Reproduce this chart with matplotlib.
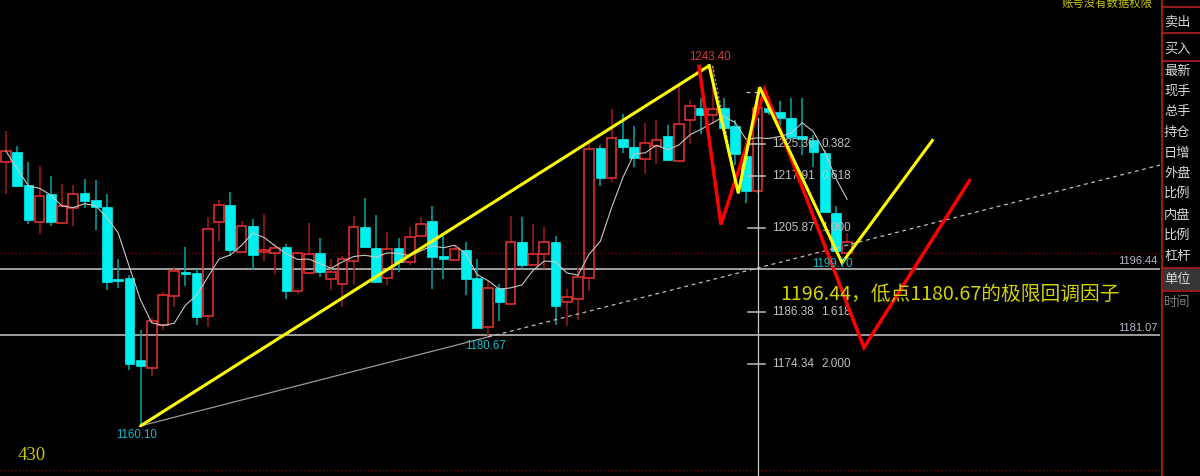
import matplotlib
matplotlib.use('Agg')
import matplotlib.pyplot as plt
from matplotlib.patches import Rectangle
from matplotlib.lines import Line2D
import numpy as np
import pandas as pd

plt.rcParams['font.family'] = ['Noto Sans CJK SC', 'DejaVu Sans']

# ---------------- data ----------------
opens = [1221.1, 1223.45, 1215.9, 1207.3, 1213.8, 1207.1, 1210.5, 1214.0, 1212.3, 1210.8,
         1193.96, 1194.2, 1175.3, 1173.6, 1183.35, 1190.2, 1195.65, 1195.4, 1185.5, 1207.3,
         1211.1, 1200.4, 1206.4, 1200.4, 1200.0, 1201.5, 1191.4, 1195.5, 1200.0, 1194.1,
         1192.8, 1198.2, 1206.0, 1201.2, 1194.35, 1201.2, 1198.0, 1204.0, 1207.4, 1199.35,
         1198.4, 1200.8, 1194.2, 1182.95, 1191.96, 1188.4, 1202.7, 1197.4, 1199.75, 1202.7,
         1188.8, 1189.35, 1194.2, 1224.3, 1217.45, 1226.5, 1224.5, 1221.8, 1224.9, 1227.2,
         1221.45, 1230.75, 1233.6, 1232.1, 1233.7, 1229.4, 1222.4, 1214.5, 1233.6, 1232.6,
         1231.3, 1227.2, 1226.3, 1223.2, 1209.4, 1200.0]
highs = [1228.4, 1224.9, 1221.1, 1220.1, 1218.0, 1216.1, 1215.8, 1217.2, 1217.0, 1213.8,
         1198.75, 1194.9, 1182.2, 1185.0, 1191.0, 1196.9, 1201.5, 1196.7, 1208.4, 1212.4,
         1214.2, 1207.4, 1208.0, 1209.1, 1202.2, 1202.2, 1200.3, 1207.1, 1203.6, 1198.75,
         1199.5, 1208.7, 1212.7, 1208.9, 1204.9, 1203.6, 1206.1, 1208.4, 1211.0, 1204.1,
         1201.6, 1202.6, 1198.75, 1193.5, 1192.8, 1208.7, 1208.4, 1206.9, 1206.0, 1204.1,
         1191.8, 1196.5, 1225.75, 1225.1, 1233.4, 1232.2, 1229.5, 1230.1, 1230.9, 1229.6,
         1238.8, 1235.4, 1235.9, 1243.4, 1235.9, 1230.9, 1223.6, 1235.5, 1236.0, 1235.3,
         1235.9, 1236.0, 1227.4, 1224.0, 1210.9, 1204.75]
lows = [1213.8, 1215.4, 1206.8, 1204.4, 1206.3, 1206.9, 1206.3, 1210.5, 1205.5, 1191.5,
        1191.9, 1173.0, 1160.1, 1171.6, 1182.3, 1187.5, 1192.4, 1183.4, 1183.05, 1202.9,
        1199.5, 1200.2, 1196.1, 1198.2, 1195.3, 1189.5, 1190.5, 1195.3, 1194.6, 1191.5,
        1187.7, 1192.65, 1201.3, 1193.3, 1192.6, 1195.8, 1197.3, 1203.9, 1191.7, 1194.0,
        1198.35, 1190.4, 1182.65, 1180.67, 1184.3, 1188.2, 1196.4, 1197.2, 1196.4, 1183.35,
        1183.2, 1184.7, 1191.3, 1215.5, 1216.4, 1223.1, 1219.9, 1218.4, 1220.7, 1221.45,
        1221.1, 1225.3, 1227.7, 1229.8, 1228.6, 1220.5, 1211.7, 1214.0, 1232.1, 1229.1,
        1226.3, 1222.8, 1220.0, 1209.3, 1200.2, 1199.70]
closes = [1223.6, 1215.6, 1207.6, 1213.3, 1207.2, 1211.0, 1213.8, 1212.2, 1210.8, 1193.4,
          1193.5, 1174.4, 1173.95, 1184.4, 1190.4, 1196.0, 1195.3, 1185.3, 1205.7, 1211.1,
          1200.7, 1206.3, 1199.6, 1200.8, 1201.3, 1191.3, 1200.0, 1199.9, 1195.75, 1195.8,
          1198.7, 1206.2, 1201.4, 1193.4, 1200.9, 1198.0, 1203.7, 1206.9, 1199.2, 1198.6,
          1201.0, 1194.0, 1182.7, 1192.05, 1188.7, 1202.65, 1197.3, 1199.75, 1202.7, 1187.8,
          1189.9, 1194.6, 1224.2, 1217.45, 1226.7, 1224.5, 1222.1, 1225.5, 1226.2, 1221.6,
          1229.9, 1234.0, 1231.9, 1233.4, 1229.1, 1223.0, 1214.35, 1233.7, 1232.7, 1231.3,
          1226.8, 1226.45, 1223.4, 1209.5, 1200.5, 1202.6]

ma_period = 5

# hand-drawn wave lines (bar index, price)
yellow_idx = [12, 62.7]
yellow_px = [1160.10, 1243.40]
yellow_zz_idx = [62.7, 65.3, 67.2, 74.55, 82.6]
yellow_zz_px = [1243.40, 1213.9, 1238.4, 1197.8, 1226.1]
red_zz_idx = [61.8, 63.75, 67.65, 76.5, 85.9]
red_zz_px = [1243.2, 1206.65, 1237.8, 1178.2, 1216.8]

# trend line through the two lows
trend_idx = [12, 43]
trend_px = [1160.10, 1180.67]

# fibonacci projection levels
fib_prices = [1225.36, 1217.91, 1205.87, 1186.38, 1174.34]
fib_ratios = ['0.382', '0.618', '1.000', '1.618', '2.000']
fib_zero = 1237.39

hlines = [1196.44, 1181.07]
ref_dotted = 1200.0

ext_labels = [('1243.40', 63, 1243.40, '#d23c3c', -1.5, 6.3),
              ('1180.67', 43, 1180.67, '#10bcc8', -2.2, -6.2),
              ('1160.10', 12, 1160.10, '#10bcc8', -2.5, -6.5),
              ('1199.70', 75, 1199.70, '#10bcc8', -10.5, -6.5)]

note_text = '1196.44，低点1180.67的极限回调因子'

panel_items = ['卖出', '买入', '最新', '现手', '总手', '持仓', '日增', '外盘', '比例',
               '内盘', '比例', '杠杆', '单位', '时间']
panel_y = [21.7, 49.3, 71.7, 90.7, 111.7, 132.7, 153.3, 174, 193.3, 215, 235, 256.7,
           279.3, 302.3]

# ---------------- figure ----------------
W, H = 1200, 476
fig = plt.figure(figsize=(W / 100, H / 100), dpi=100, facecolor='black')
ax = fig.add_axes([0, 0, 1160 / W, 1])
ax.set_facecolor('black')
XMIN, XMAX = -0.535, 102.9
YMIN, YMAX = 1148.51, 1258.59
ax.set_xlim(XMIN, XMAX)
ax.set_ylim(YMIN, YMAX)
ax.axis('off')

n = len(closes)
idx = np.arange(n)
w = 0.86
UP_EDGE = '#f03232'
UP_WICK = '#a01c1c'
DN_FILL = '#00f0f0'
DN_WICK = '#00a8a8'

for i in range(n):
    o, h, l, c = opens[i], highs[i], lows[i], closes[i]
    if c >= o:
        ax.plot([i, i], [max(o, c), h], color=UP_WICK, lw=1.1, zorder=2, solid_capstyle='butt')
        ax.plot([i, i], [l, min(o, c)], color=UP_WICK, lw=1.1, zorder=2, solid_capstyle='butt')
        ax.add_patch(Rectangle((i - w / 2, o), w, max(c - o, 0.15), fill=False,
                               edgecolor=UP_EDGE, lw=1.1, zorder=3))
    else:
        ax.plot([i, i], [l, h], color=DN_WICK, lw=1.1, zorder=2, solid_capstyle='butt')
        ax.add_patch(Rectangle((i - w / 2, c), w, max(o - c, 0.3), facecolor=DN_FILL,
                               edgecolor=DN_FILL, lw=0.5, zorder=3))

ma = pd.Series(closes).rolling(ma_period, min_periods=1).mean()
ax.plot(idx, ma, color='#c8c8c8', lw=0.8, zorder=4)

# horizontal reference lines
for v in hlines:
    ax.axhline(v, color='#c8c8c8', lw=1.1, zorder=1)
    ax.text(102.7, v + 0.6, f'{v:.2f}', color='#b8b8c8', fontsize=8,
            family='Liberation Sans', ha='right', va='bottom', zorder=6)
ax.axhline(ref_dotted, color='#8c0000', lw=0.9, ls=(0, (1, 2)), zorder=1)
ax.axhline(1149.9, color='#8c0000', lw=0.9, ls=(0, (1, 2)), zorder=1)

# trend line (solid then dashed extension)
ax.plot(trend_idx, trend_px, color='#9a9a9a', lw=0.9, zorder=4)
slope = (trend_px[1] - trend_px[0]) / (trend_idx[1] - trend_idx[0])
ax.plot([trend_idx[1], XMAX], [trend_px[1], trend_px[1] + slope * (XMAX - trend_idx[1])],
        color='#c0c0c0', lw=0.9, ls=(0, (3, 3)), zorder=4)

# fib tool
ax.plot([67.08, 67.08], [YMIN, 1231.4], color='#c8c8c8', lw=0.9, zorder=4)
ax.plot([63, 65.3], [1243.4, 1213.9], color='#b0b0b0', lw=0.8, ls=(0, (2, 2)), zorder=4)
ax.plot([66.0, 67.4], [fib_zero, fib_zero], color='#b0b0b0', lw=1.0, ls=(0, (3, 3)), zorder=4)
for p, r in zip(fib_prices, fib_ratios):
    ax.plot([66.2, 67.7], [p, p], color='#c0c0c0', lw=1.1, zorder=4)
    ax.text(68.3, p, f'{p:.2f}', color='#c0c0c0', fontsize=8.5, family='Liberation Sans',
            ha='left', va='center', zorder=5)
    ax.text(72.7, p, r, color='#c0c0c0', fontsize=8.5, family='Liberation Sans',
            ha='left', va='center', zorder=5)

# wave lines
ax.plot(yellow_idx, yellow_px, color='#ffff00', lw=2.2, zorder=7, solid_capstyle='round')
ax.plot(red_zz_idx, red_zz_px, color='#ff0000', lw=2.5, zorder=7, solid_joinstyle='miter')
ax.plot(yellow_zz_idx, yellow_zz_px, color='#ffff00', lw=2.2, zorder=8, solid_joinstyle='miter')

# extreme labels
for t, k, p, col, dx, dy in ext_labels:
    ax.annotate(t, xy=(k, p), xytext=(dx, dy), textcoords='offset points', color=col,
                fontsize=8.3, family='Liberation Sans', ha='center', va='center', zorder=9)

ax.text(69.05, 1190.4, note_text, color='#d2d200', fontsize=14.2, ha='left', va='center',
        zorder=9)
ax.text(1.0, 1153.3, '430', color='#c8c800', fontsize=13.5, family='Liberation Serif',
        ha='left', va='center', zorder=9)

# ---------------- right side panel ----------------
def fy(py):
    return 1 - py / H

def fx(px):
    return px / W

RED = '#b41e1e'
fig.add_artist(Line2D([fx(1161.5), fx(1161.5)], [0, 1], color=RED, lw=1.2))
for py in [6.7, 33.3, 61, 268.3, 291]:
    fig.add_artist(Line2D([fx(1161.5), 1], [fy(py), fy(py)], color=RED, lw=1.2))
fig.add_artist(Rectangle((fx(1162.5), fy(290.3)), 1 - fx(1162.5), (290.3 - 269.3) / H,
                         facecolor='#363636', edgecolor='none', transform=fig.transFigure))
for t, py in zip(panel_items, panel_y):
    col = '#808080' if t == '时间' else '#d8d8d8'
    fig.text(fx(1164), fy(py), t, color=col, fontsize=9.5, ha='left', va='center')

fig.text(fx(1153), fy(3.5), '账号没有数据权限', color='#c8c800', fontsize=8.2, ha='right',
         va='center')

fig.savefig('out.png', dpi=100, facecolor='black')
